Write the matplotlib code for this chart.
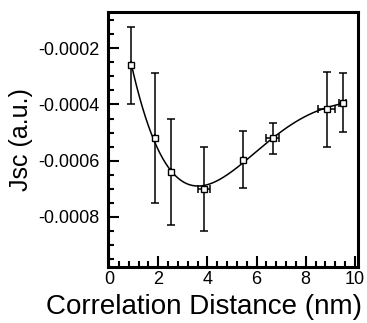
import matplotlib
matplotlib.use("Agg")
import matplotlib.pyplot as plt
import numpy as np
from matplotlib.ticker import MultipleLocator

plt.rcParams["font.family"] = ["Liberation Sans", "DejaVu Sans"]

# data
dist = [0.9, 1.85, 2.52, 3.85, 5.45, 6.65, 8.85, 9.5]
jsc = [-0.000260, -0.000520, -0.000640, -0.000702, -0.000597, -0.000521, -0.000417, -0.000393]
jsc_err = [0.000138, 0.000232, 0.000190, 0.000150, 0.000102, 0.000055, 0.000133, 0.000105]
dist_err = [0.0, 0.0, 0.0, 0.25, 0.0, 0.27, 0.35, 0.15]

# smooth fit through the points
coef = np.polyfit(dist, jsc, 4)
xs = np.linspace(min(dist), max(dist), 300)

fig = plt.figure(figsize=(3.67, 3.23), dpi=100)
ax = fig.add_axes([0.294, 0.173, 0.681, 0.79])

ax.plot(xs, np.polyval(coef, xs), color="black", lw=1.1, zorder=2)
ax.errorbar(dist, jsc, yerr=jsc_err, xerr=dist_err, fmt="s", mfc="white",
            mec="black", ms=5, color="black", elinewidth=1.1, capsize=3,
            capthick=1.1, zorder=3)

ax.set_xlim(-0.05, 10.12)
ax.set_ylim(-0.00098, -0.00007)
ax.xaxis.set_major_locator(MultipleLocator(2))
ax.xaxis.set_minor_locator(MultipleLocator(0.4))
ax.yaxis.set_major_locator(MultipleLocator(0.0002))
ax.yaxis.set_minor_locator(MultipleLocator(0.00005))
ax.yaxis.set_major_formatter(plt.FuncFormatter(lambda v, p: f"{v:.4f}"))

ax.tick_params(which="both", direction="in", top=False, right=False,
               labelsize=13, width=1.5)
ax.tick_params(axis="y", pad=6)
ax.tick_params(axis="x", pad=3)
ax.tick_params(which="major", length=8)
ax.tick_params(which="minor", length=4)
for s in ax.spines.values():
    s.set_linewidth(2.2)

ax.set_xlabel("Correlation Distance (nm)", fontsize=20)
ax.xaxis.set_label_coords(0.384, -0.105, transform=ax.transAxes)
ax.xaxis.label.set_va("top")
ax.set_ylabel("Jsc (a.u.)", fontsize=18, labelpad=4)

fig.savefig("out.png", dpi=100)
